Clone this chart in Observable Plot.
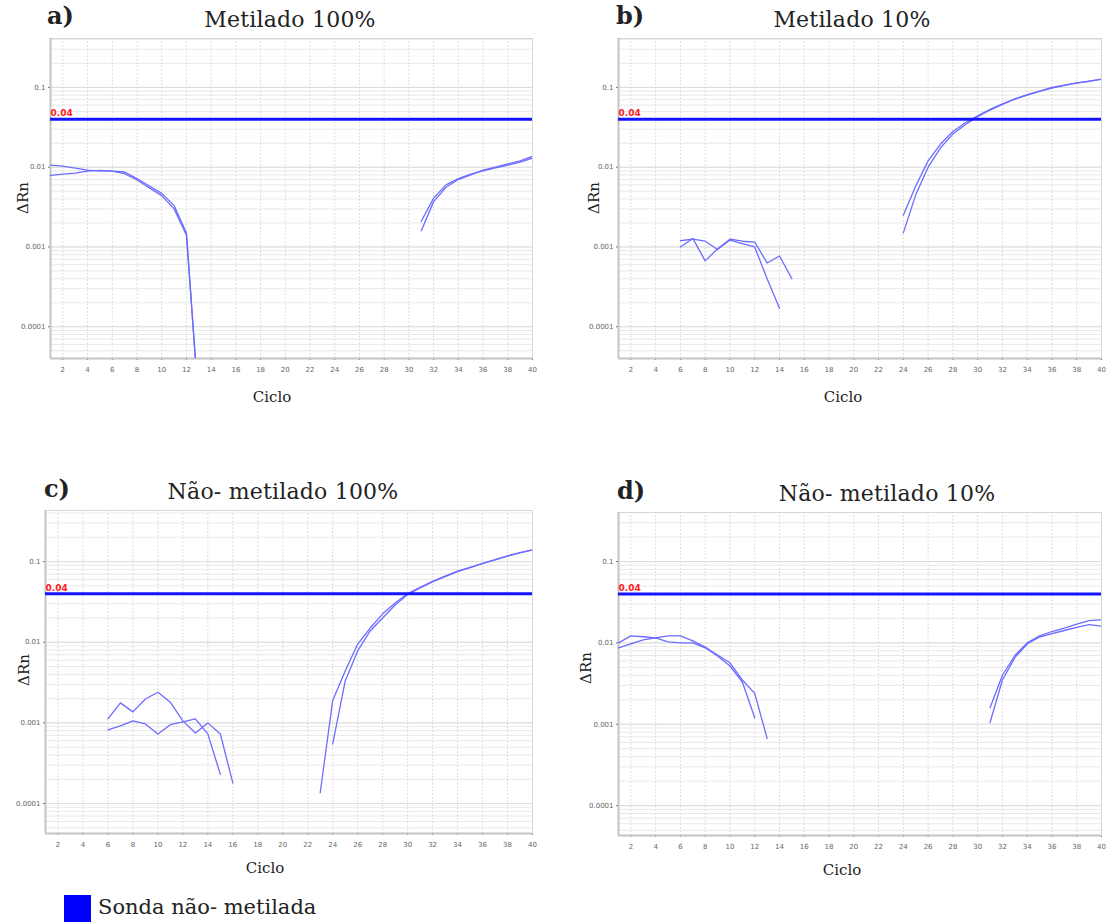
<!DOCTYPE html>
<html><head><meta charset="utf-8">
<script src="https://cdn.jsdelivr.net/npm/d3@7"></script>
<script src="https://cdn.jsdelivr.net/npm/@observablehq/plot@0.6"></script>
<style>
body{margin:0;background:#fff;}
#fig{position:relative;width:1107px;height:923px;overflow:hidden;font-family:"DejaVu Serif",serif;color:#222;}
.t{position:absolute;white-space:nowrap;line-height:1;}
.tag{font-weight:bold;font-size:24px;}
.ttl{font-size:22px;transform:translate(-50%,-50%);letter-spacing:0.2px;}
.xl{font-size:15px;transform:translate(-50%,-50%);}
.yl{font-size:15px;transform:translate(-50%,-50%) rotate(-90deg);}
.leg{font-size:21px;}
svg{position:absolute;overflow:visible;}
</style></head><body><div id="fig"></div>
<script>
// ---- shared axis data ----
const xTicks = [2,4,6,8,10,12,14,16,18,20,22,24,26,28,30,32,34,36,38,40];
const yTicks = [0.1, 0.01, 0.001, 0.0001];
const yTickLabels = ["0.1", "0.01", "0.001", "0.0001"];
const threshold = 0.04;
const thresholdLabel = "0.04";

// ---- panel a: Metilado 100% ----
const aEarlyCycles = [1,2,3,4,5,6,7,8,9,10,11,12,13];
const a1 = [0.0106,0.0103,0.0097,0.0092,0.0090,0.0089,0.0083,0.0069,0.0055,0.0044,0.0030,0.00140,0.00001];
const a2 = [0.0079,0.0082,0.0084,0.0089,0.0091,0.0089,0.0087,0.0072,0.0058,0.0047,0.0033,0.00150,0.00001];
const aLateCycles = [31,32,33,34,35,36,37,38,39,40];
const a3 = [0.0021,0.0041,0.0060,0.0072,0.0082,0.0090,0.0098,0.0106,0.0116,0.0130];
const a4 = [0.0016,0.0037,0.0056,0.0070,0.0080,0.0092,0.0100,0.0110,0.0120,0.0137];

// ---- panel b: Metilado 10% ----
const b1Cycles = [6,7,8,9,10,11,12,13,14,15];
const b1 = [0.00100,0.00128,0.00067,0.00095,0.00125,0.00118,0.00115,0.00063,0.00077,0.00040];
const b2Cycles = [6,7,8,9,10,11,12,13,14];
const b2 = [0.00120,0.00125,0.00118,0.00093,0.00122,0.00110,0.00100,0.00040,0.00017];
const bLateCycles = [24,25,26,27,28,29,30,31,32,33,34,35,36,37,38,39,40];
const b3 = [0.0025,0.0058,0.0120,0.0195,0.028,0.036,0.044,0.053,0.062,0.072,0.081,0.090,0.100,0.107,0.114,0.120,0.127];
const b4 = [0.0015,0.0045,0.0100,0.0175,0.026,0.034,0.043,0.052,0.061,0.071,0.080,0.089,0.098,0.106,0.113,0.119,0.126];

// ---- panel c: Não- metilado 100% ----
const c1Cycles = [6,7,8,9,10,11,12,13,14,15,16];
const c1 = [0.00112,0.00177,0.00137,0.00198,0.0024,0.0018,0.00106,0.00075,0.0010,0.00073,0.00018];
const c2Cycles = [6,7,8,9,10,11,12,13,14,15];
const c2 = [0.00082,0.00092,0.00106,0.00097,0.00073,0.00095,0.00103,0.00112,0.00073,0.00023];
const c3Cycles = [23,24,25,26,27,28,29,30,31,32,33,34,35,36,37,38,39,40];
const c3 = [0.000136,0.0019,0.0044,0.0095,0.015,0.0225,0.0307,0.040,0.048,0.057,0.066,0.076,0.085,0.095,0.106,0.118,0.129,0.140];
const c4Cycles = [24,25,26,27,28,29,30,31,32,33,34,35,36,37,38,39,40];
const c4 = [0.00055,0.0033,0.0078,0.0138,0.020,0.029,0.039,0.047,0.056,0.065,0.075,0.084,0.094,0.105,0.117,0.128,0.139];

// ---- panel d: Não- metilado 10% ----
const dEarlyCycles = [1,2,3,4,5,6,7,8,9,10,11,12,13];
const d1 = [0.0100,0.0122,0.0119,0.0115,0.0122,0.0122,0.0106,0.0089,0.0071,0.0057,0.0035,0.0024,0.00067];
const d2Cycles = [1,2,3,4,5,6,7,8,9,10,11,12];
const d2 = [0.0087,0.0097,0.0109,0.0115,0.0103,0.0100,0.0100,0.0087,0.0069,0.0052,0.0033,0.0012];
const dLateCycles = [31,32,33,34,35,36,37,38,39,40];
const d3 = [0.0016,0.0040,0.0070,0.0100,0.0122,0.0138,0.0152,0.0170,0.0188,0.0192];
const d4 = [0.00105,0.0035,0.0066,0.0097,0.0118,0.0130,0.0142,0.0155,0.0168,0.0160];

const titles = ["Metilado 100%", "Metilado 10%", "Não- metilado 100%", "Não- metilado 10%"];
const tags = ["a)", "b)", "c)", "d)"];
const legendLabel = "Sonda não- metilada";

const panels = [
  {series:[[aEarlyCycles,a1],[aEarlyCycles,a2],[aLateCycles,a3],[aLateCycles,a4]],
   box:{left:0, top:30, width:553, height:385, ml:50, mr:21, mt:8, mb:57}, yDomain:[4.0e-5, 0.41],
   tag:[47,4], title:[290,20], xl:[272,397], yl:[23,198]},
  {series:[[b1Cycles,b1],[b2Cycles,b2],[bLateCycles,b3],[bLateCycles,b4]],
   box:{left:568, top:30, width:539, height:385, ml:50, mr:6, mt:8, mb:57}, yDomain:[4.0e-5, 0.41],
   tag:[616,4], title:[852,20], xl:[843,397], yl:[594,198]},
  {series:[[c1Cycles,c1],[c2Cycles,c2],[c3Cycles,c3],[c4Cycles,c4]],
   box:{left:0, top:500, width:553, height:385, ml:45, mr:21, mt:10, mb:52}, yDomain:[4.25e-5, 0.43],
   tag:[44,477], title:[283,492], xl:[265,868], yl:[24,670]},
  {series:[[dEarlyCycles,d1],[d2Cycles,d2],[dLateCycles,d3],[dLateCycles,d4]],
   box:{left:568, top:500, width:539, height:385, ml:50, mr:6, mt:12, mb:50}, yDomain:[4.3e-5, 0.40],
   tag:[617,479], title:[887,494], xl:[842,870], yl:[586,668]}
];

const fig = document.getElementById("fig");
function addText(cls, txt, x, y){
  const d = document.createElement("div");
  d.className = "t " + cls; d.textContent = txt;
  d.style.left = x + "px"; d.style.top = y + "px";
  fig.appendChild(d); return d;
}

panels.forEach((p, pi) => {
  const rows = [];
  p.series.forEach(([cyc, vals], si) => cyc.forEach((c, i) => rows.push({curve: si, cycle: c, value: vals[i]})));
  const minor = [];
  for (let e = -5; e <= 0; e++) for (let k = 1; k <= 9; k++) {
    const v = k * Math.pow(10, e);
    if (v > p.yDomain[0] && v < p.yDomain[1]) minor.push(v);
  }
  const b = p.box;
  const svg = Plot.plot({
    width: b.width, height: b.height,
    marginLeft: b.ml, marginRight: b.mr, marginTop: b.mt, marginBottom: b.mb,
    style: {fontFamily: "DejaVu Sans, sans-serif", fontSize: "7px", color: "#666", background: "transparent"},
    x: {domain: [1, 40], ticks: xTicks, tickFormat: d => String(d), label: null, tickSize: 2, tickPadding: 7},
    y: {type: "log", domain: p.yDomain, ticks: yTicks, tickFormat: d => yTickLabels[yTicks.indexOf(d)], label: null, tickSize: 2, tickPadding: 3},
    marks: [
      Plot.ruleY(minor, {stroke: "#e9e9e9", strokeWidth: 1}),
      Plot.ruleY(yTicks, {stroke: "#dcdcdc", strokeWidth: 1}),
      Plot.ruleX(xTicks, {stroke: "#d4d4d4", strokeWidth: 1, strokeDasharray: "1.5,2"}),
      Plot.frame({stroke: "#d6d6d6"}),
      Plot.ruleX([1], {stroke: "#c4c4c4", strokeWidth: 2}),
      Plot.ruleY([p.yDomain[0]], {stroke: "#c4c4c4", strokeWidth: 2}),
      Plot.line(rows, {x: "cycle", y: "value", z: "curve", stroke: "#6c6cff", strokeWidth: 1.3, clip: true}),
      Plot.ruleY([threshold], {stroke: "#1414ff", strokeWidth: 3}),
      Plot.text([threshold], {y: d => d, frameAnchor: "left", text: () => thresholdLabel, dx: 0, dy: -6,
        textAnchor: "start", fill: "#ff2020", fontSize: 9, fontWeight: "bold"})
    ]
  });
  svg.style.left = b.left + "px"; svg.style.top = b.top + "px";
  fig.appendChild(svg);
  addText("tag", tags[pi], p.tag[0], p.tag[1]);
  addText("ttl", titles[pi], p.title[0], p.title[1]);
  addText("xl", "Ciclo", p.xl[0], p.xl[1]);
  addText("yl", "ΔRn", p.yl[0], p.yl[1]);
});

// legend
const sw = document.createElement("div");
sw.style.cssText = "position:absolute;left:64px;top:895px;width:27px;height:27px;background:#0000ff;";
fig.appendChild(sw);
addText("leg", legendLabel, 98, 897);
</script></body></html>
